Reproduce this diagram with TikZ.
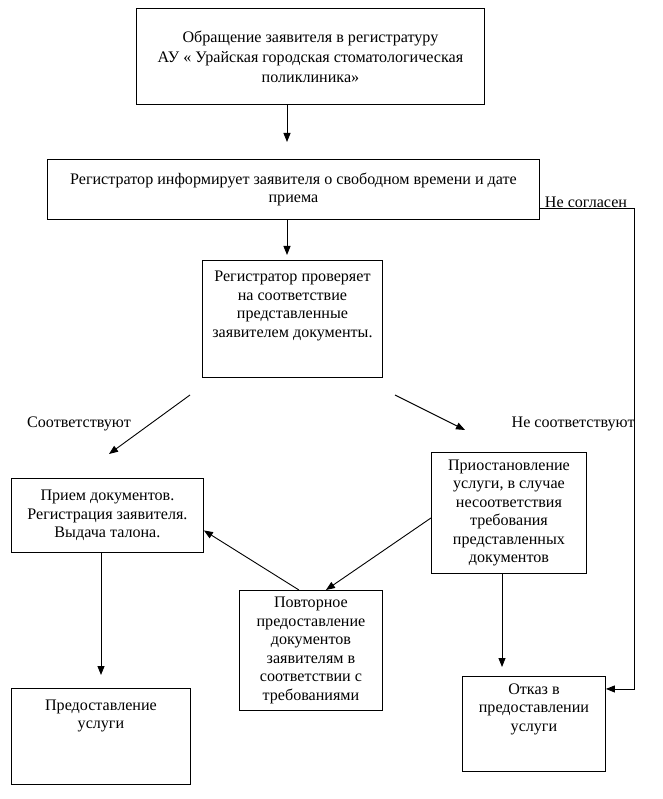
\documentclass[tikz,border=0pt]{standalone}
\usepackage{fontspec}
\setmainfont{Liberation Serif}
\usetikzlibrary{arrows.meta}

\tikzset{
  box/.style={draw, anchor=north west, align=center, inner sep=2pt},
  toptext/.style={align=center, inner sep=0pt, anchor=north, yshift=-11pt},
  >={Triangle[length=9pt,width=7pt]}
}

\begin{document}
\begin{tikzpicture}[x=1pt,y=-1pt,font=\fontsize{16.1}{18.5}\selectfont,line width=0.9pt]
\useasboundingbox (0,0) rectangle (662,799);
% boxes
\node[box, minimum width=348pt, minimum height=96pt,
      font=\fontsize{16.1}{20}\selectfont] (obr) at (136,8)
    {Обращение заявителя в регистратуру\\АУ « Урайская городская стоматологическая\\поликлиника»};
\node[box, minimum width=492pt, minimum height=60pt] (inf) at (47,159)
    {Регистратор информирует заявителя о свободном времени и дате\\приема};
\node[box, minimum width=180pt, minimum height=117pt,
      label={[toptext]north:{Регистратор проверяет\\на соответствие\\представленные\\заявителем документы.}}] (prov) at (202,260) {};
\node[box, minimum width=192pt, minimum height=74pt] (priem) at (11,478)
    {Прием документов.\\Регистрация заявителя.\\Выдача талона.};
\node[box, minimum width=155pt, minimum height=121pt] (prio) at (431,452)
    {Приостановление\\услуги, в случае\\несоответствия\\требования\\представленных\\документов};
\node[box, minimum width=143pt, minimum height=120pt] (povt) at (239,590)
    {Повторное\\предоставление\\документов\\заявителям в\\соответствии с\\требованиями};
\node[box, minimum width=179pt, minimum height=96pt,
      label={[toptext]north:{Предоставление\\услуги}}] (pred) at (11,688) {};
\node[box, minimum width=143pt, minimum height=95pt,
      label={[toptext, yshift=4pt]north:{Отказ в\\предоставлении\\услуги}}] (otk) at (462,676) {};

% labels
\node (soot) at (79,424) {Соответствуют};
\node[anchor=east, inner sep=0pt] (nesoot) at (635,424) {Не соответствуют};
\node (nesogl) at (586,202) {Не согласен};

% free ends
\coordinate (e1) at (287,142);
\coordinate (e2) at (287,255);
\coordinate (d1) at (190,395);
\coordinate (d2) at (109,454);
\coordinate (d3) at (395,395);
\coordinate (d4) at (465,430);
\coordinate (e5) at (101,675);
\coordinate (e6) at (502,667);
\coordinate (r) at (634,0);
\coordinate (t) at ([yshift=35pt]otk.east);

% connectors
\draw[->] (e1 |- obr.south) -- (e1);
\draw[->] (e2 |- inf.south) -- (e2);
\draw[->] (d1) -- (d2);
\draw[->] (d3) -- (d4);
\draw[->] ([yshift=-5pt]prio.west) -- ([xshift=15pt]povt.north);
\draw[->] ([xshift=-12pt]povt.north) -- ([yshift=-15pt]priem.east);
\draw[->] (e5 |- priem.south) -- (e5);
\draw[->] (e6 |- prio.south) -- (e6);
\draw[->] ([yshift=-19pt]inf.east) coordinate (s) -- (s -| r) -- (t -| r) -- (t);
\end{tikzpicture}
\end{document}
